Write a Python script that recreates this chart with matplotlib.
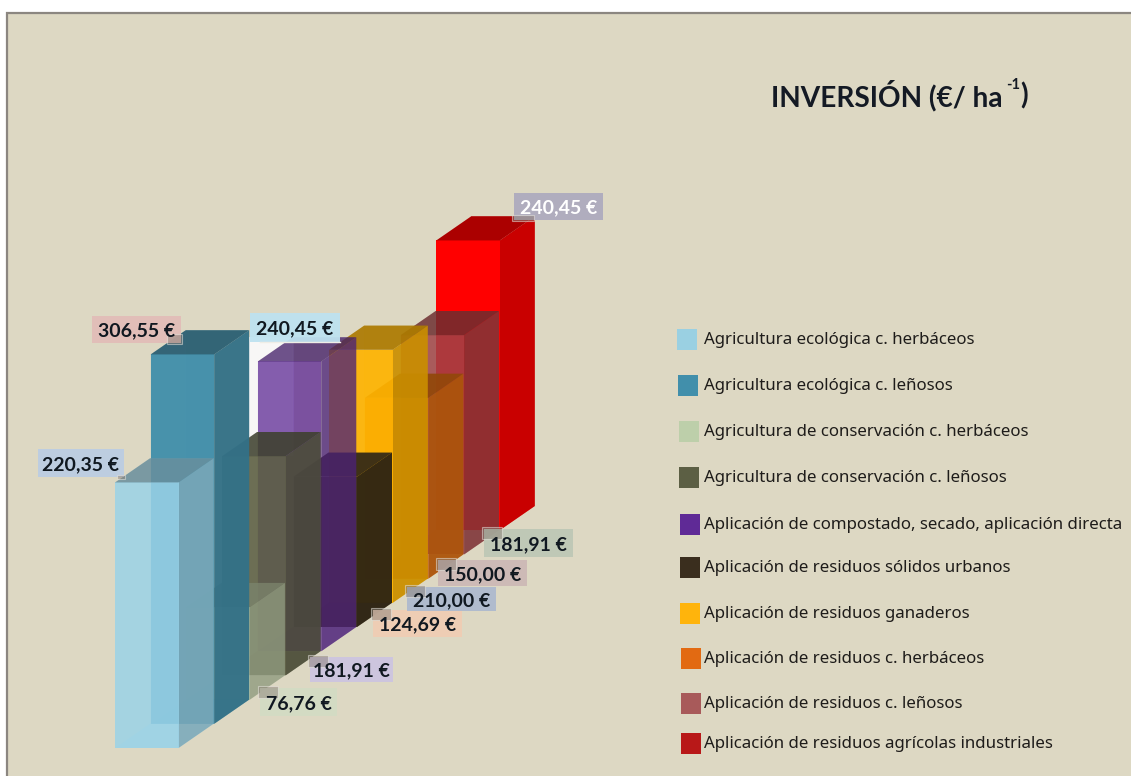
import matplotlib
matplotlib.use('Agg')
import matplotlib.pyplot as plt
import matplotlib.patches as patches

categories = ['Agricultura ecológica c. herbáceos',
              'Agricultura ecológica c. leñosos',
              'Agricultura de conservación c. herbáceos',
              'Agricultura de conservación c. leñosos',
              'Aplicación de compostado, secado, aplicación directa',
              'Aplicación de residuos sólidos urbanos',
              'Aplicación de residuos ganaderos',
              'Aplicación de residuos c. herbáceos',
              'Aplicación de residuos c. leñosos',
              'Aplicación de residuos agrícolas industriales']
values = [220.35, 306.55, 76.76, 181.91, 240.45, 124.69, 210.00, 150.00, 181.91, 240.45]
value_labels = ['220,35 €', '306,55 €', '76,76 €', '181,91 €', '240,45 €',
                '124,69 €', '210,00 €', '150,00 €', '181,91 €', '240,45 €']
bar_colors = ['#9AD3E8', '#418FAB', '#B4C2A0', '#5C5F44', '#5F2A96',
              '#3A2E18', '#FFB400', '#D96A0E', '#A04448', '#FF0000']
bar_alpha = [0.82, 0.95, 0.72, 0.85, 0.72, 0.95, 0.9, 0.9, 0.82, 1.0]
top_shades = [0.67, 0.67, 0.67, 0.67, 0.67, 0.95, 0.67, 0.67, 0.67, 0.67]
legend_colors = ['#9AD0E2', '#418FAB', '#BDCFAA', '#5C5F44', '#5F2A96',
                 '#3A2E1E', '#FFB40C', '#E26A12', '#A85A5A', '#B81818']
label_colors = ['#BCCDE2', '#E2BDB8', '#D3DCC4', '#CDC4E0', '#BEE2F0',
                '#F0CDB4', '#AEBACE', '#CDB9B6', '#BEC8B6', '#AEABBE']

# layout, in pixels of the 1131x776 picture
X0, BASE_Y = 115, 748
BAR_W, DX, DY, PX_PER_EURO = 63.5, 35.7, 24.2, 1.205
DEPTH_X = 35
label_boxes = [(38, 449, 124, 477), (92, 316, 181, 343), (260, 688, 337, 716),
               (310, 657, 393, 682), (250, 313, 340, 342), (373, 610, 462, 637),
               (407, 587, 496, 611), (438, 560, 527, 586), (484, 529, 573, 557),
               (514, 193, 603, 220)]
label_text_colors = ['#101820'] * 9 + ['white']
legend_x = [677, 678, 679, 679, 679.5, 680, 680, 680.5, 680.5, 681]
legend_y = [339, 385, 431, 477, 524, 567, 613, 658, 703, 743]


def shade(color, k):
    r, g, b = matplotlib.colors.to_rgb(color)
    return (r * k, g * k, b * k)


def draw_bar(ax, i):
    left = X0 + i * DX
    bottom = BASE_Y - i * DY
    right = left + BAR_W
    top = bottom - values[i] * PX_PER_EURO
    c = bar_colors[i]
    a = bar_alpha[i]

    def face(pts, color, alpha):
        ax.add_patch(patches.Polygon(pts, closed=True, facecolor=color, alpha=alpha,
                                     edgecolor='none'))

    # inner faces first, they show through the glassy front
    face([(left + DEPTH_X, top - DY), (right + DEPTH_X, top - DY), (right + DEPTH_X, bottom - DY), (left + DEPTH_X, bottom - DY)],
         shade(c, 0.9), a * 0.25)
    face([(left, top), (left + DEPTH_X, top - DY), (left + DEPTH_X, bottom - DY), (left, bottom)],
         shade(c, 0.9), a * 0.15)
    face([(left, bottom), (right, bottom), (right + DEPTH_X, bottom - DY), (left + DEPTH_X, bottom - DY)],
         c, a * 0.6)
    # outer faces
    face([(right, top), (right + DEPTH_X, top - DY), (right + DEPTH_X, bottom - DY), (right, bottom)],
         shade(c, 0.79), a)
    face([(left, top), (right, top), (right, bottom), (left, bottom)], c, a)
    face([(left, top), (right, top), (right + DEPTH_X, top - DY), (left + DEPTH_X, top - DY)],
         shade(c, top_shades[i]), a)


fig = plt.figure(figsize=(11.31, 7.76), dpi=100, facecolor='white')
ax = fig.add_axes([0, 0, 1, 1])
ax.set_xlim(0, 1131)
ax.set_ylim(776, 0)
ax.axis('off')

# panel
ax.add_patch(patches.Rectangle((7, 13), 1130, 770, facecolor='#DDD8C3', edgecolor='#8B8680', linewidth=1.6))

# white glow seen between the second bar and the fifth one
glow_left = X0 + DX + BAR_W + DEPTH_X
glow_right = X0 + 4 * DX
glow_top = BASE_Y - 4 * DY - values[4] * PX_PER_EURO - DY
glow_bottom = BASE_Y - 3 * DY - values[3] * PX_PER_EURO
ax.add_patch(patches.Rectangle((glow_left, glow_top), glow_right - glow_left + 36, glow_bottom - glow_top,
                               facecolor='#F8F7F6', edgecolor='none'))

# painter's order, back to front
for i in range(len(values) - 1, -1, -1):
    draw_bar(ax, i)

# value labels
for i, (x1, y1, x2, y2) in enumerate(label_boxes):
    ax.add_patch(patches.Rectangle((x1, y1), x2 - x1, y2 - y1, facecolor=label_colors[i],
                                   edgecolor='none', alpha=0.95, zorder=5))
    ax.text((x1 + x2) / 2, (y1 + y2) / 2, value_labels[i], ha='center', va='center_baseline',
            family='Lato', weight='bold', fontsize=14, color=label_text_colors[i], zorder=7)
    # small tag joining the label to its bar
    if i == 4:
        ax.plot([x1 + 10, x2], [y2, y2], color='#EFEDE6', linewidth=1, zorder=6)
        continue
    if i == 0:
        tag, tag_w, tag_h = (x2 - 7, y2 - 2), 8, 4
    elif i == 1:
        tag, tag_w, tag_h = (x2 - 14, y2 - 9), 15, 10
    elif i == 9:
        tag, tag_w, tag_h = (x1 - 2, y2 - 5), 22, 6
    else:
        tag, tag_w, tag_h = (x1 - 2, y1 - 2), 20, 12
    ax.add_patch(patches.Rectangle(tag, tag_w, tag_h, facecolor='#8A8078', edgecolor='#EFEDE6',
                                   linewidth=0.8, alpha=0.5, zorder=6))

# legend
for i, name in enumerate(categories):
    ax.add_patch(patches.Rectangle((legend_x[i], legend_y[i] - 10), 20, 20.5, facecolor=legend_colors[i],
                                   edgecolor='none'))
    ax.text(704, legend_y[i] + 1, name, ha='left', va='center', family='Noto Sans',
            fontsize=12.15, color='#1E1C1A')

# title
ax.text(771, 96, 'INVERSIÓN (€/ ha', ha='left', va='center', family='Lato', weight='bold',
        fontsize=20.2, color='#141A24')
ax.text(1006, 85, '-1', ha='left', va='center', family='Lato', weight='bold',
        fontsize=10.5, color='#141A24')
ax.text(1020, 96, ')', ha='left', va='center', family='Lato', weight='bold',
        fontsize=20.2, color='#141A24')

fig.savefig('out.png', dpi=100, facecolor='white')
